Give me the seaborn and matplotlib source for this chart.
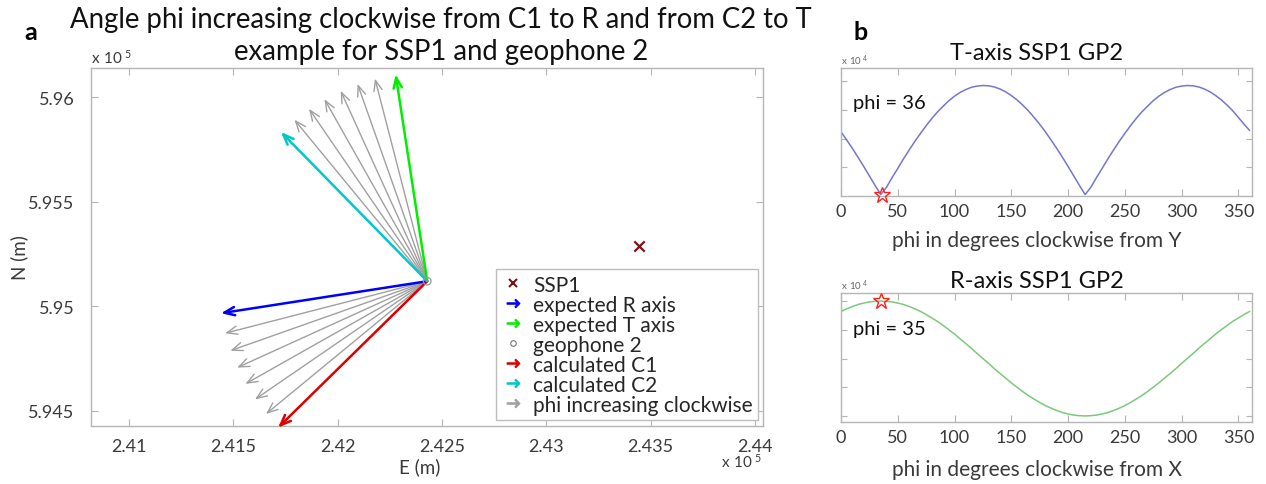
import numpy as np
import pandas as pd
import matplotlib
matplotlib.use("Agg")
import matplotlib.pyplot as plt
from matplotlib.lines import Line2D
import seaborn as sns

# ---------------- data ----------------
geophone_E = [242429]
geophone_N = [595120]
ssp1_E = [243445]
ssp1_N = [595287]
arrow_len_m = 1000
az_expected_R = 261.2   # degrees clockwise from north
az_expected_T = 351.3
az_calc_C1 = 225.6
az_calc_C2 = 315.5
phi_steps = [5, 10, 15, 20, 25, 30]

x_ticks = [241000, 241500, 242000, 242500, 243000, 243500, 244000]
x_ticklabels = ["2.41", "2.415", "2.42", "2.425", "2.43", "2.435", "2.44"]
y_ticks = [594500, 595000, 595500, 596000]
y_ticklabels = ["5.945", "5.95", "5.955", "5.96"]

phi_deg = list(range(0, 361, 5))
t_axis_amp = [2.24, 1.95, 1.66, 1.35, 1.03, 0.70, 0.37, 0.05, 0.30, 0.64,
              0.96, 1.29, 1.60, 1.90, 2.18, 2.45, 2.70, 2.93, 3.13, 3.32,
              3.48, 3.61, 3.71, 3.79, 3.83, 3.85, 3.84, 3.80, 3.73, 3.63,
              3.50, 3.35, 3.17, 2.97, 2.74, 2.50, 2.24, 1.95, 1.66, 1.35,
              1.03, 0.70, 0.37, 0.05, 0.30, 0.64, 0.96, 1.29, 1.60, 1.90,
              2.18, 2.45, 2.70, 2.93, 3.13, 3.32, 3.48, 3.61, 3.71, 3.79,
              3.83, 3.85, 3.84, 3.80, 3.73, 3.63, 3.50, 3.35, 3.17, 2.97,
              2.74, 2.50, 2.28]
r_axis_amp = [4.64, 4.73, 4.81, 4.88, 4.93, 4.97, 4.99, 5.00, 4.99, 4.97,
              4.93, 4.88, 4.81, 4.73, 4.64, 4.53, 4.41, 4.29, 4.15, 4.00,
              3.85, 3.68, 3.52, 3.35, 3.17, 3.00, 2.83, 2.65, 2.48, 2.32,
              2.15, 2.00, 1.85, 1.71, 1.59, 1.47, 1.36, 1.27, 1.19, 1.12,
              1.07, 1.03, 1.01, 1.00, 1.01, 1.03, 1.07, 1.12, 1.19, 1.27,
              1.36, 1.47, 1.59, 1.71, 1.85, 2.00, 2.15, 2.32, 2.48, 2.65,
              2.83, 3.00, 3.17, 3.35, 3.52, 3.68, 3.85, 4.00, 4.15, 4.29,
              4.41, 4.53, 4.64]
t_best_phi = 36
t_best_val = 0.05
r_best_phi = 35
r_best_val = 5.0
phi_ticks = [0, 50, 100, 150, 200, 250, 300, 350]

# ---------------- style ----------------
sns.set_theme(style="ticks")
FONT = ["Lato", "DejaVu Sans"]
plt.rcParams["font.family"] = FONT
plt.rcParams["mathtext.fontset"] = "custom"
plt.rcParams["mathtext.rm"] = "Lato"

SPINE = "#b5b5b5"
TICKLBL = "#3a3a3a"

fig = plt.figure(figsize=(12.66, 4.85), dpi=100)
W, H = 1266, 485


def px_axes(l, t, r, b):
    return fig.add_axes([l / W, (H - b) / H, (r - l) / W, (b - t) / H])


def style_box(ax):
    for s in ax.spines.values():
        s.set_color(SPINE)
        s.set_linewidth(1.0)
    ax.tick_params(which="both", direction="in", length=5, width=0.8,
                   color=SPINE, labelcolor=TICKLBL, top=True, right=True)


# ---------------- panel a ----------------
ax = px_axes(91, 69, 763, 427)
ax.set_xlim(240818, 244038)
ax.set_ylim(594428, 596139)
style_box(ax)


def tip(az):
    a = np.deg2rad(az)
    return (geophone_E[0] + arrow_len_m * np.sin(a),
            geophone_N[0] + arrow_len_m * np.cos(a))


def draw_arrow(az, color, lw):
    ax.annotate("", xy=tip(az), xytext=(geophone_E[0], geophone_N[0]),
                xycoords="data", textcoords="data", annotation_clip=False,
                arrowprops=dict(arrowstyle="->,head_length=0.75,head_width=0.3",
                                color=color, lw=lw, shrinkA=0, shrinkB=0,
                                mutation_scale=10, clip_on=True))


for p in phi_steps:
    draw_arrow(az_calc_C1 + p, "#a0a0a0", 1.0)
    draw_arrow(az_calc_C2 + p, "#a0a0a0", 1.0)
draw_arrow(az_expected_R, "#0000ff", 1.8)
draw_arrow(az_expected_T, "#00ee00", 1.8)
draw_arrow(az_calc_C1, "#dd0000", 1.8)
draw_arrow(az_calc_C2, "#00c8c8", 1.8)

pts_ssp = pd.DataFrame({"E": ssp1_E, "N": ssp1_N})
pts_geo = pd.DataFrame({"E": geophone_E, "N": geophone_N})
sns.scatterplot(data=pts_ssp, x="E", y="N", ax=ax, marker="x", s=55,
                color="#7a1414", linewidth=1.6, zorder=5)
sns.scatterplot(data=pts_geo, x="E", y="N", ax=ax, marker="o", s=30,
                facecolor="none", edgecolor="#999999", linewidth=0.9, zorder=5)

ax.set_xticks(x_ticks)
ax.set_xticklabels(x_ticklabels, fontsize=13)
ax.set_yticks(y_ticks)
ax.set_yticklabels(y_ticklabels, fontsize=13)
ax.tick_params(axis="x", pad=9)
ax.tick_params(axis="y", pad=12)
ax.set_xlabel("E (m)", fontsize=13.5, color=TICKLBL)
ax.set_ylabel("N (m)", fontsize=13.5, color=TICKLBL)
ax.xaxis.set_label_coords((420 - 91) / 672, -(467 - 427) / 358, transform=ax.transAxes)
ax.xaxis.label.set_va("center")
ax.yaxis.set_label_coords(-(91 - 19) / 672, (427 - 258) / 358, transform=ax.transAxes)
ax.yaxis.label.set_va("center")

handles = [
    Line2D([], [], ls="none", marker="x", color="#7a1414", markersize=6, mew=1.5),
    Line2D([], [], ls="none", marker=r"$\rightarrow$", color="#0000ff", markersize=9),
    Line2D([], [], ls="none", marker=r"$\rightarrow$", color="#00ee00", markersize=9),
    Line2D([], [], ls="none", marker="o", mfc="none", mec="#777777", markersize=4, mew=0.8),
    Line2D([], [], ls="none", marker=r"$\rightarrow$", color="#dd0000", markersize=9),
    Line2D([], [], ls="none", marker=r"$\rightarrow$", color="#00c8c8", markersize=9),
    Line2D([], [], ls="none", marker=r"$\rightarrow$", color="#a0a0a0", markersize=9),
]
labels = ["SSP1", "expected R axis", "expected T axis", "geophone 2",
          "calculated C1", "calculated C2", "phi increasing clockwise"]
leg = ax.legend(handles, labels, loc="lower right", bbox_to_anchor=(0.993, 0.017),
                fontsize=15, frameon=True, fancybox=False, framealpha=1,
                edgecolor="#bdbdbd", labelspacing=0.0, handlelength=1.1,
                handletextpad=0.45, borderpad=0.25, borderaxespad=0)
leg.get_frame().set_linewidth(1.0)

fig.text(441 / W, 1 - 20 / H, "Angle phi increasing clockwise from C1 to R and from C2 to T",
         ha="center", va="center", fontsize=19.8, color="#111111")
fig.text(441 / W, 1 - 52 / H, "example for SSP1 and geophone 2",
         ha="center", va="center", fontsize=19.8, color="#111111")
fig.text(91 / W, 1 - 58 / H, r"$\mathregular{x\ 10^{\ 5}}$", ha="left", va="center",
         fontsize=11, color=TICKLBL)
fig.text(762 / W, 1 - 462 / H, r"$\mathregular{x\ 10^{\ 5}}$", ha="right", va="center",
         fontsize=11, color=TICKLBL)
fig.text(31 / W, 1 - 33 / H, "a", ha="center", va="center", fontsize=18,
         fontweight="bold", color="black")
fig.text(861 / W, 1 - 32 / H, "b", ha="center", va="center", fontsize=18,
         fontweight="bold", color="black")

# ---------------- panel b ----------------
df_t = pd.DataFrame({"phi": phi_deg, "amp": t_axis_amp})
df_r = pd.DataFrame({"phi": phi_deg, "amp": r_axis_amp})

axT = px_axes(841, 69, 1252, 197)
axR = px_axes(841, 294, 1252, 423)

sns.lineplot(data=df_t, x="phi", y="amp", ax=axT, color="#7676cc", lw=1.1)
axT.plot([t_best_phi], [t_best_val], marker="*", ms=12, mfc="none",
         mec="#ff2020", mew=1.0, clip_on=False, zorder=5)
axT.set_xlim(0, 362)
axT.set_ylim(0, 4.46)
axT.set_yticks([1, 2, 3, 4])
axT.set_yticklabels([])
axT.set_ylabel("")
axT.text(10.5, 3.27, "phi = 36", fontsize=14.5, va="center", ha="left", color="#111111")

sns.lineplot(data=df_r, x="phi", y="amp", ax=axR, color="#7cc97c", lw=1.1)
axR.plot([r_best_phi], [r_best_val], marker="*", ms=12, mfc="none",
         mec="#ff2020", mew=1.0, clip_on=False, zorder=5)
axR.set_xlim(0, 362)
axR.set_ylim(0.79, 5.28)
axR.set_yticks([1, 2, 3, 4, 5])
axR.set_yticklabels([])
axR.set_ylabel("")
axR.text(10.5, 4.03, "phi = 35", fontsize=14.5, va="center", ha="left", color="#111111")

for a_, ttl, xl, ttl_y, xl_y, top, bot in (
        (axT, "T-axis SSP1 GP2", "phi in degrees clockwise from Y", 54, 241, 69, 197),
        (axR, "R-axis SSP1 GP2", "phi in degrees clockwise from X", 282, 470, 294, 423)):
    style_box(a_)
    a_.set_xticks(phi_ticks)
    a_.set_xticklabels([str(v) for v in phi_ticks], fontsize=13)
    a_.tick_params(axis="x", pad=5)
    a_.tick_params(axis="y", length=4)
    hh = bot - top
    a_.set_title(ttl, fontsize=17, color="#111111", x=(1037 - 841) / 411,
                 y=(bot - ttl_y) / hh, va="center", pad=0)
    a_.set_xlabel(xl, fontsize=15, color=TICKLBL)
    a_.xaxis.set_label_coords((1037 - 841) / 411, -(xl_y - bot) / hh, transform=a_.transAxes)
    a_.xaxis.label.set_va("center")

fig.text(841 / W, 1 - 61 / H, r"$\mathregular{x\ 10^{\ 4}}$", ha="left", va="center",
         fontsize=7, color="#666666")
fig.text(841 / W, 1 - 286 / H, r"$\mathregular{x\ 10^{\ 4}}$", ha="left", va="center",
         fontsize=7, color="#666666")

fig.savefig("out.png", dpi=100)
